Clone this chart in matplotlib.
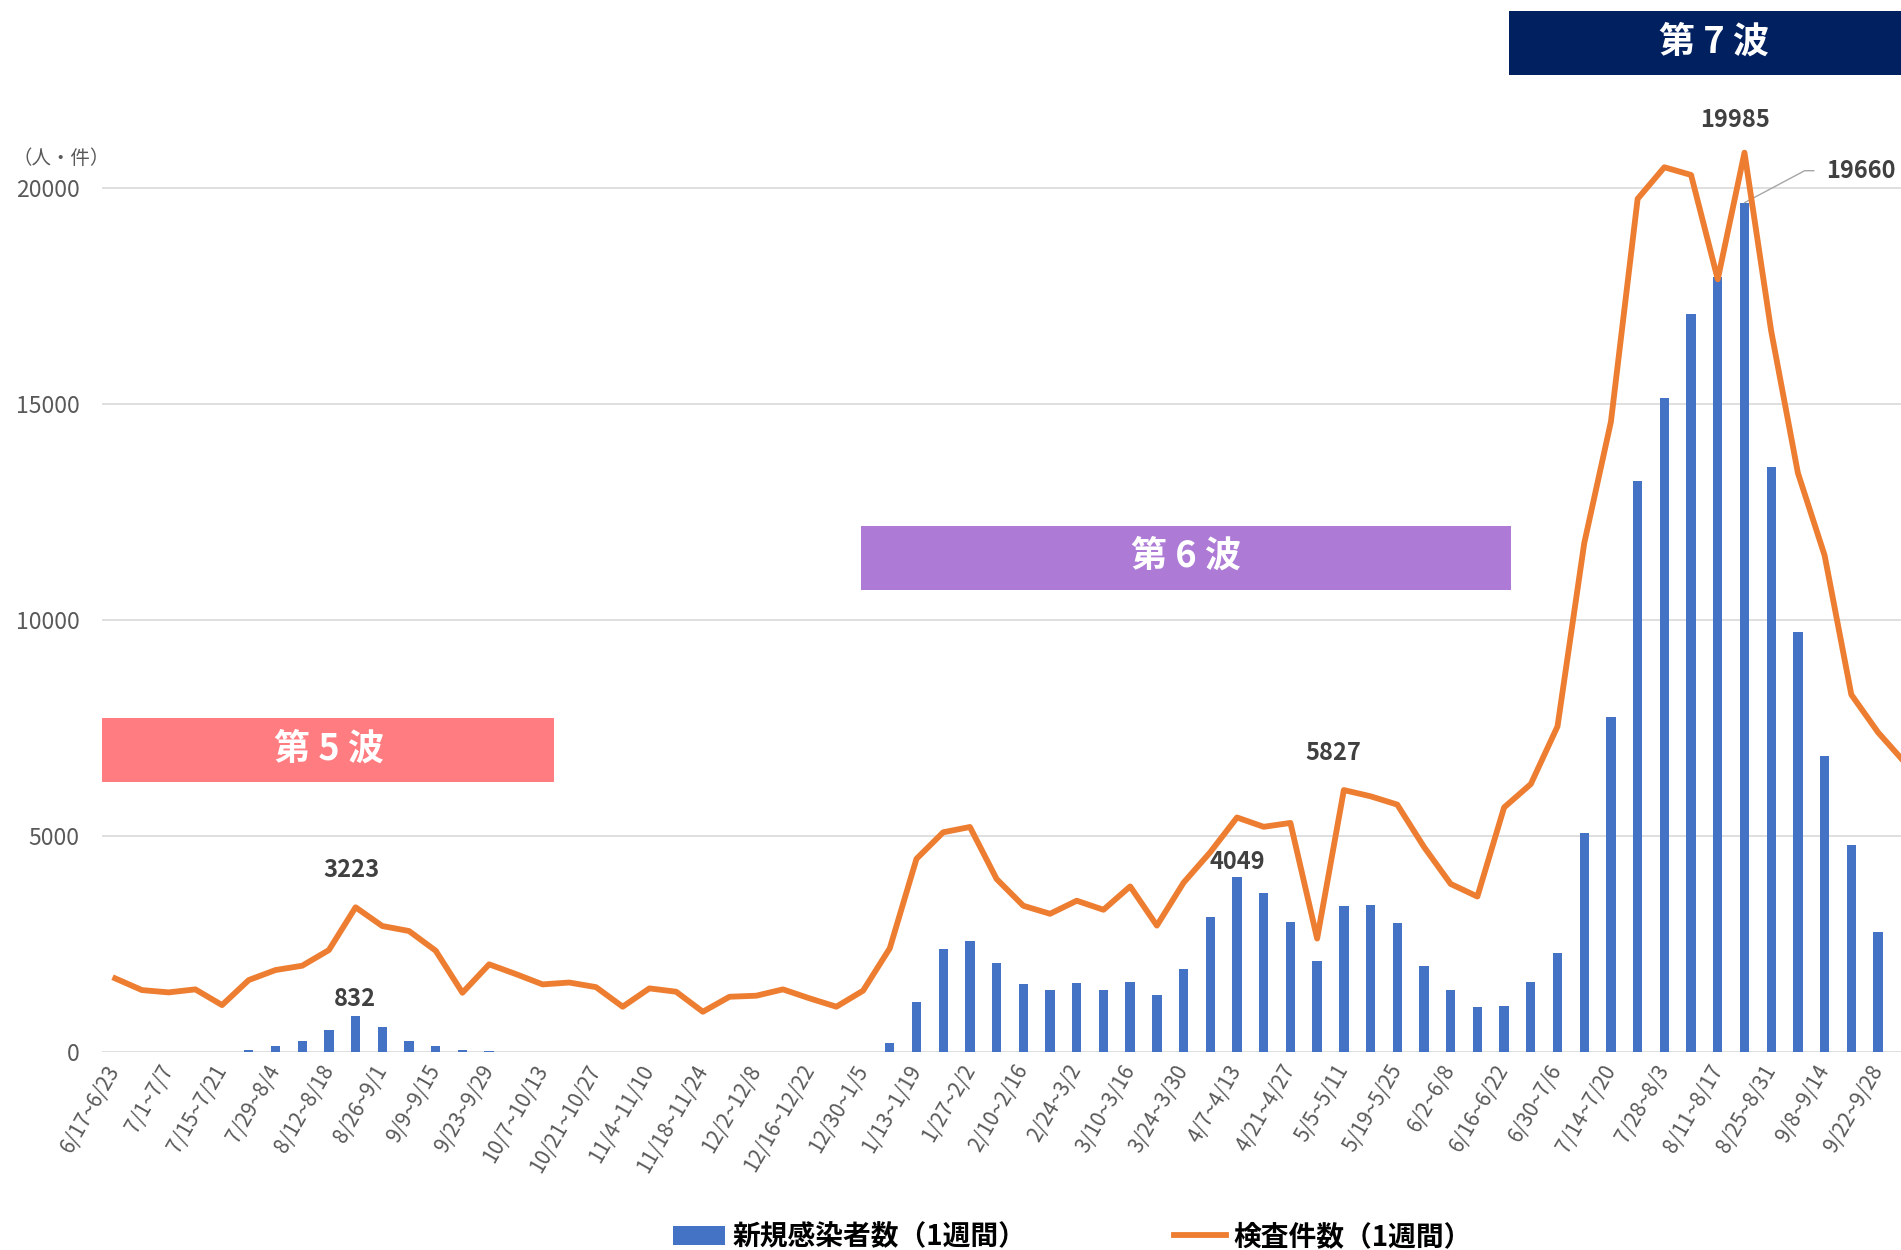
import numpy as np
import matplotlib.pyplot as plt
from matplotlib.patches import Rectangle
from matplotlib.lines import Line2D

plt.rcParams['font.family'] = ['Noto Sans CJK JP', 'DejaVu Sans']

# weekly new cases (bars), from the week 6/17~6/23
cases = [10, 15, 10, 8, 12, 53, 146, 262, 524, 832,
         578, 269, 139, 53, 30, 10, 5, 3, 0, 0,
         0, 0, 0, 0, 0, 0, 0, 3, 10, 208,
         1167, 2403, 2581, 2071, 1584, 1437, 1607, 1453, 1623, 1321,
         1935, 3128, 4049, 3687, 3024, 2104, 3394, 3416, 2992, 1988,
         1448, 1042, 1066, 1637, 2301, 5073, 7768, 13220, 15139, 17090,
         17950, 19660, 13553, 9730, 6857, 4803, 2788]

# weekly tests (line), one more week than visible bars
tests = [1644, 1384, 1333, 1400, 1051, 1607, 1829, 1925, 2273, 3223,
         2807, 2696, 2258, 1325, 1956, 1740, 1511, 1552, 1450, 1015,
         1422, 1348, 903, 1236, 1259, 1400, 1200, 1015, 1371, 2312,
         4300, 4889, 5007, 3851, 3257, 3079, 3369, 3168, 3687, 2817,
         3770, 4448, 5218, 5011, 5097, 2528, 5827, 5689, 5504, 4564,
         3742, 3462, 5441, 5960, 7242, 11309, 14010, 18960, 19661, 19490,
         17172, 19985, 16022, 12870, 11040, 7947, 7109, 6442]

# labels shown on every second week
week_labels = ['6/17~6/23', '7/1~7/7', '7/15~7/21', '7/29~8/4', '8/12~8/18',
               '8/26~9/1', '9/9~9/15', '9/23~9/29', '10/7~10/13', '10/21~10/27',
               '11/4~11/10', '11/18~11/24', '12/2~12/8', '12/16~12/22', '12/30~1/5',
               '1/13~1/19', '1/27~2/2', '2/10~2/16', '2/24~3/2', '3/10~3/16',
               '3/24~3/30', '4/7~4/13', '4/21~4/27', '5/5~5/11', '5/19~5/25',
               '6/2~6/8', '6/16~6/22', '6/30~7/6', '7/14~7/20', '7/28~8/3',
               '8/11~8/17', '8/25~8/31', '9/8~9/14', '9/22~9/28']

yticks = [0, 5000, 10000, 15000, 20000]
legend_labels = ['新規感染者数（1週間）', '検査件数（1週間）']

fig = plt.figure(figsize=(19.01, 12.5), dpi=100)
ax = fig.add_axes([0.05358, 0.15808, 0.94642, 0.84192])

x = np.arange(len(cases))
bars = ax.bar(x, cases, width=0.35, color='#4472C4', zorder=2)
ax.set_xlim(-0.5, 66.86)
ax.set_ylim(0, 24350)
ax.set_yticks(yticks)
ax.set_yticklabels([str(v) for v in yticks])
ax.grid(axis='y', color='#D9D9D9', lw=1.2)
ax.set_axisbelow(True)
for s in ax.spines.values():
    s.set_visible(False)
ax.tick_params(axis='y', length=0, pad=16, labelsize=16.5, labelcolor='#595959')
ax.set_xticks(x[::2])
ax.set_xticklabels(week_labels, rotation=60, ha='right', va='center',
                   rotation_mode='anchor', fontsize=15, color='#595959')
ax.tick_params(axis='x', length=0, pad=10)

# tests sit on a secondary scale (its axis is cut off at the right)
ax2 = ax.twinx()
ax2.set_ylim(0, 24350 * 0.96)
line, = ax2.plot(np.arange(len(tests)), tests, color='#ED7D31', lw=4.2,
                 solid_joinstyle='round', zorder=3)
ax2.axis('off')

# wave boxes
waves = [('第 5 波', '#FF7C80', -0.5, 16.43, 6257, 7737, 7.99, 7013),
         ('第 6 波', '#AD7AD6', 27.92, 52.25, 10697, 12179, 40.08, 11486),
         ('第 7 波', '#002060', 52.18, 68.0, 22614, 24095, 59.86, 23378)]
for name, col, x0, x1, y0, y1, tx, ty in waves:
    ax.add_patch(Rectangle((x0, y0), x1 - x0, y1 - y0, color=col, zorder=5, lw=0))
    ax.text(tx, ty, name, color='white', fontsize=26, fontweight='bold',
            ha='center', va='center', zorder=6)

lab = dict(fontsize=17, fontweight='bold', color='#404040', ha='center',
           va='center', textcoords='offset pixels')
ax2.annotate('3223', xy=(9, 3223), xytext=(-4, 37), **lab)
ax.annotate('832', xy=(9, 832), xytext=(-1, 17), **lab)
ax.annotate('4049', xy=(42, 4049), xytext=(0, 15), **lab)
ax2.annotate('5827', xy=(46, 5827), xytext=(-11, 37), **lab)
ax2.annotate('19985', xy=(61, 19985), xytext=(-9, 33), **lab)
ax.annotate('19660', xy=(61, 19660), xytext=(82, 32), textcoords='offset pixels',
            fontsize=17, fontweight='bold', color='#404040', ha='left', va='center',
            arrowprops=dict(arrowstyle='-', color='#A6A6A6', lw=1,
                            connectionstyle='angle,angleA=0,angleB=28,rad=0',
                            shrinkA=7, shrinkB=0, relpos=(0, 0.5)))

fig.text(12 / 1901, 1 - 158 / 1250, '（人・件）', fontsize=14, color='#595959',
         ha='left', va='center')

handles = [bars, Line2D([0], [0], color='#ED7D31', lw=4.2)]
fig.legend(handles, legend_labels, loc='center', bbox_to_anchor=(0.564, 0.0104),
           ncol=2, frameon=False, prop={'size': 20, 'weight': 'bold'},
           handlelength=1.9, handleheight=0.65, handletextpad=0.25,
           columnspacing=5.3, borderpad=0)

fig.savefig('out.png', dpi=100)
